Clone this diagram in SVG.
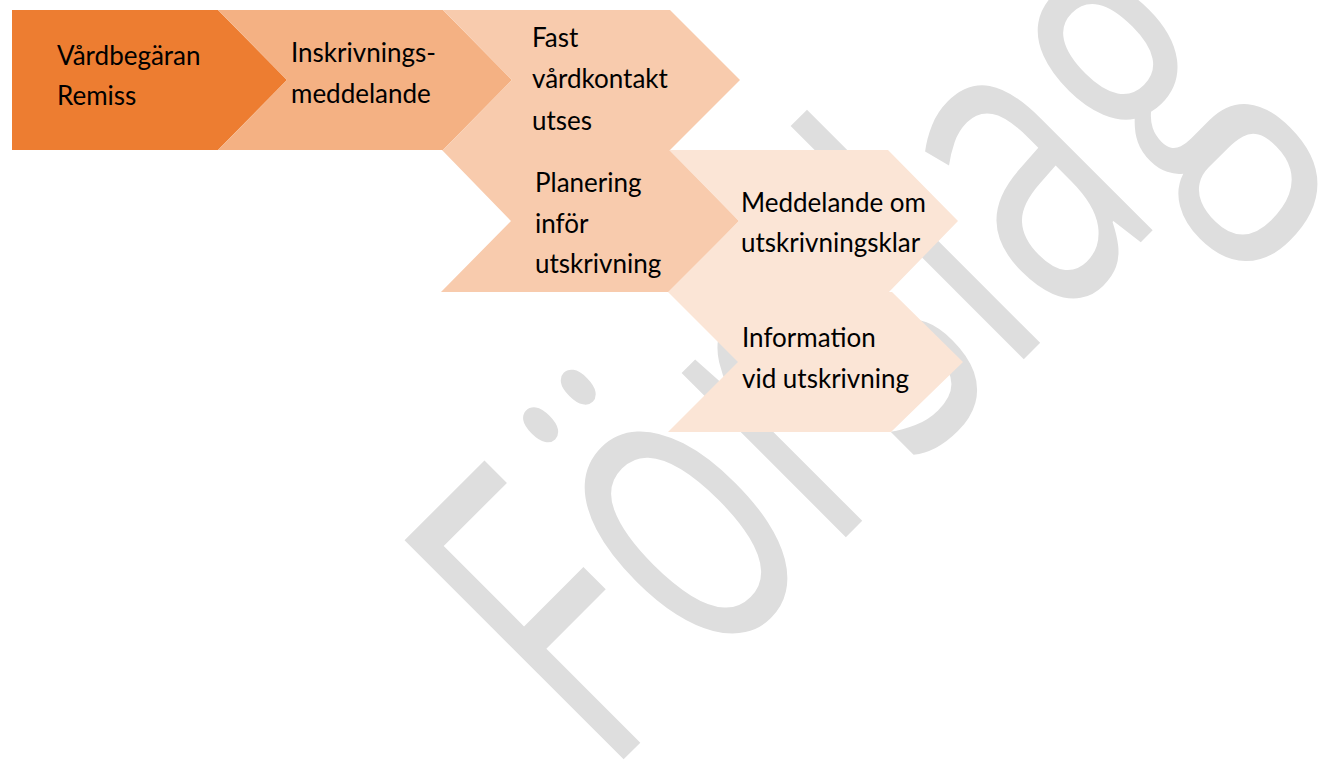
<svg xmlns="http://www.w3.org/2000/svg" width="1318" height="760" viewBox="0 0 1318 760">
  <style>
    .lbl { font-family: Lato, "Open Sans", "Liberation Sans", sans-serif; font-size: 26px; fill: #000000; }
    .wm { font-family: "Open Sans", "Noto Sans", sans-serif; font-size: 434px; fill: #dedede; }
    .c1 { fill: #ed7d31; }
    .c2 { fill: #f4b183; }
    .c3 { fill: #f8cbad; }
    .c4 { fill: #fbe5d6; }
  </style>
  <rect x="0" y="0" width="1318" height="760" fill="#ffffff"/>
  <g id="watermark">
    <text class="wm" transform="translate(604 779) rotate(-45) scale(0.655 1)" x="0" y="0">Förslag</text>
  </g>
  <g id="connectors"></g>
  <g id="node-vardbegaran">
    <polygon class="c1" points="12,10 218,10 287,80 218,150 12,150"/>
    <text class="lbl" x="57" y="65">Vårdbegäran</text>
    <text class="lbl" x="57" y="105">Remiss</text>
  </g>
  <g id="node-inskrivning">
    <polygon class="c2" points="218,10 443,10 512,80 443,150 218,150 287,80"/>
    <text class="lbl" x="291" y="62">Inskrivnings-</text>
    <text class="lbl" x="291" y="103">meddelande</text>
  </g>
  <g id="node-fast-vardkontakt">
    <polygon class="c3" points="443,10 670,10 740,80 670,150 443,150 512,80"/>
    <text class="lbl" x="532" y="47">Fast</text>
    <text class="lbl" x="532" y="88">vårdkontakt</text>
    <text class="lbl" x="532" y="130">utses</text>
  </g>
  <g id="node-planering">
    <polygon class="c3" points="442,150 670,150 739,221 670,292 441,292 511,221"/>
    <text class="lbl" x="535" y="192">Planering</text>
    <text class="lbl" x="535" y="233">inför</text>
    <text class="lbl" x="535" y="273">utskrivning</text>
  </g>
  <g id="node-meddelande">
    <polygon class="c4" points="669,150 888,150 958,221 889,292 668,292 739,221"/>
    <text class="lbl" x="741" y="212">Meddelande om</text>
    <text class="lbl" x="741" y="252">utskrivningsklar</text>
  </g>
  <g id="node-information">
    <polygon class="c4" points="668,292 892,292 963,362 891,432 668,432 738,362"/>
    <text class="lbl" x="742" y="347">Information</text>
    <text class="lbl" x="742" y="388">vid utskrivning</text>
  </g>
</svg>
